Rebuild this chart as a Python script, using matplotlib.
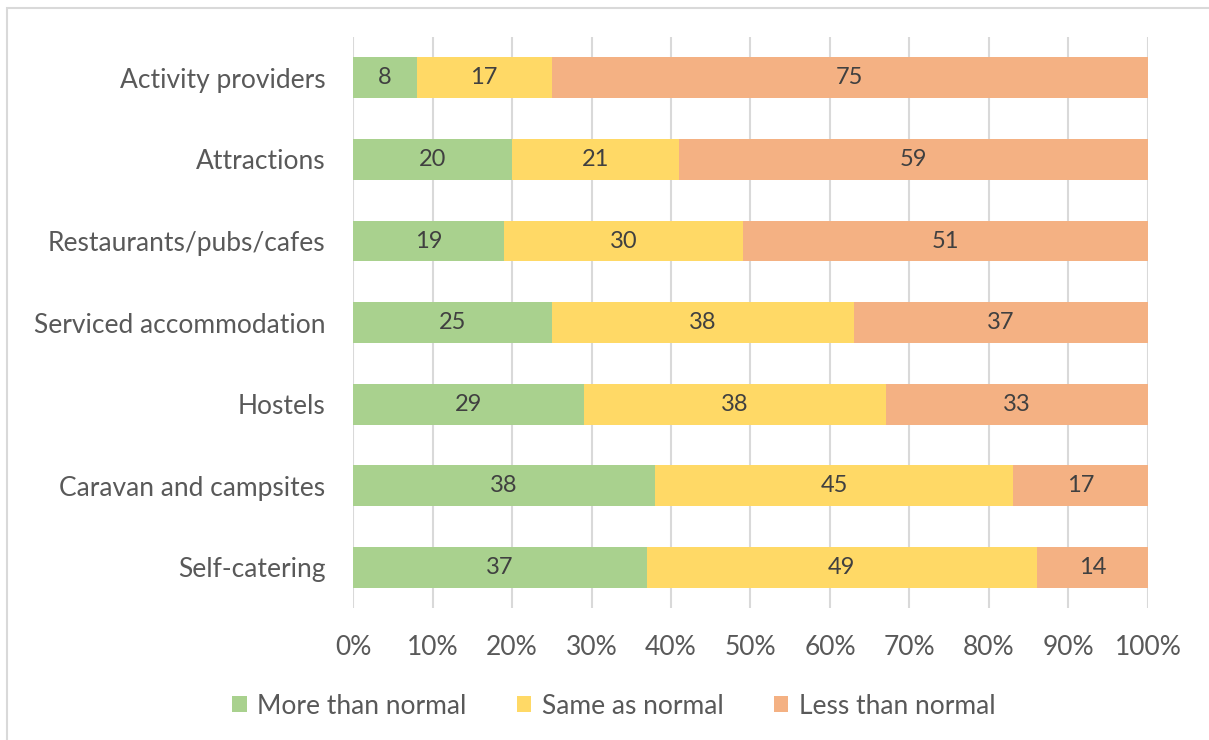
import numpy as np
import matplotlib.pyplot as plt
from matplotlib.patches import Rectangle

plt.rcParams['font.family'] = ['Lato', 'DejaVu Sans']

# Данные
categories = ["Activity providers", "Attractions", "Restaurants/pubs/cafes",
              "Serviced accommodation", "Hostels", "Caravan and campsites",
              "Self-catering"]
more = [8, 20, 19, 25, 29, 38, 37]
same = [17, 21, 30, 38, 38, 45, 49]
less = [75, 59, 51, 37, 33, 17, 14]
series = ["More than normal", "Same as normal", "Less than normal"]
colors = ["#A9D18E", "#FFD966", "#F4B183"]

fig = plt.figure(figsize=(12.09, 7.40), dpi=100)
ax = fig.add_axes([0.292, 0.178, 0.6575, 0.772])

# рамка вокруг рисунка
fig.patches.append(Rectangle((7 / 1209, -0.01), 1.02, 1 - 8 / 740 + 0.01,
                             transform=fig.transFigure, fill=False,
                             edgecolor="#D9D9D9", linewidth=1.5))

y = np.arange(len(categories))[::-1]
left = np.zeros(len(categories))
for vals, name, c in zip([more, same, less], series, colors):
    vals = np.array(vals)
    ax.barh(y, vals, left=left, height=0.5, color=c, label=name, zorder=3)
    for yy, l, v in zip(y, left, vals):
        ax.text(l + v / 2, yy, str(v), ha="center", va="center",
                fontsize=17, color="#404040", zorder=4)
    left += vals

ax.set_xlim(0, 100)
ax.set_ylim(-0.5, len(categories) - 0.5)
ax.set_xticks(np.arange(0, 101, 10))
ax.set_xticklabels([f"{t}%" for t in range(0, 101, 10)])
ax.set_yticks(y)
ax.set_yticklabels(categories)
ax.tick_params(axis="both", length=0, labelsize=19, colors="#595959")
ax.tick_params(axis="x", pad=19)
ax.tick_params(axis="y", pad=20)
ax.grid(axis="x", color="#D9D9D9", linewidth=1.5, zorder=0)
for s in ax.spines.values():
    s.set_visible(False)

fig.legend(loc="center", bbox_to_anchor=(614 / 1209, 1 - 706 / 740), ncol=3,
           frameon=False, fontsize=19, labelcolor="#595959",
           handlelength=0.55, handleheight=0.55, handletextpad=0.4,
           columnspacing=1.9)

fig.savefig("out.png", dpi=100)
